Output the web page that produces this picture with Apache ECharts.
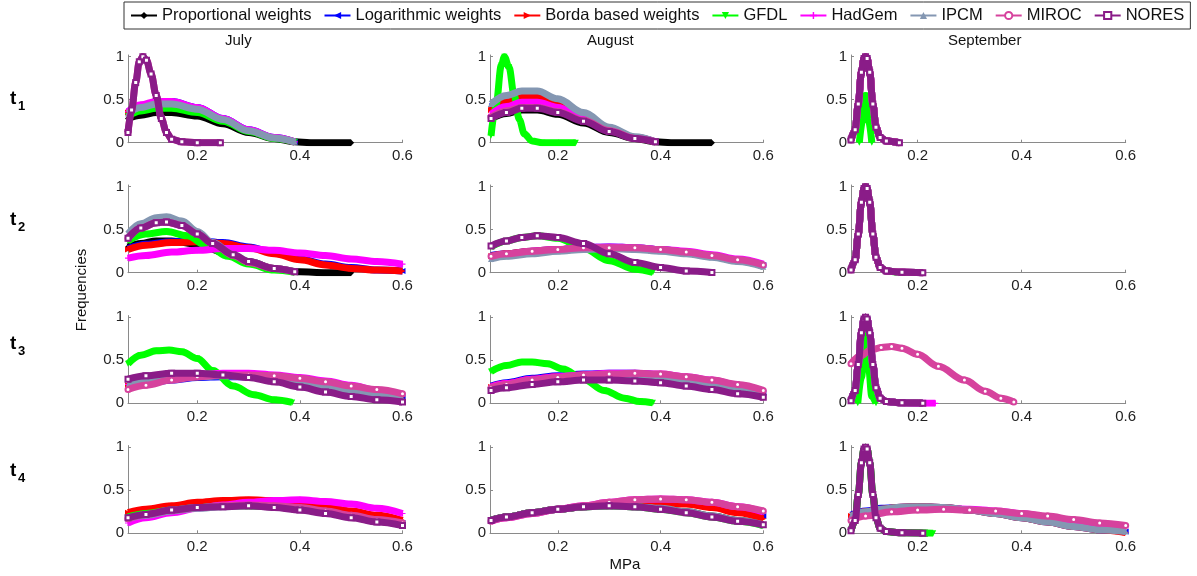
<!DOCTYPE html>
<html>
<head>
<meta charset="utf-8">
<title>Frequencies</title>
<script src="https://cdn.jsdelivr.net/npm/echarts@6/dist/echarts.min.js"></script>
<style>
  html, body { margin: 0; padding: 0; background: #fff; }
  #chart { width: 1197px; height: 576px; }
</style>
</head>
<body>
<div id="chart"></div>
<script>
// series order in every panel: prop, log, borda, gfdl, hadgem, ipcm, miroc, nores
const seriesNames = ['Proportional weights', 'Logarithmic weights', 'Borda based weights', 'GFDL', 'HadGem', 'IPCM', 'MIROC', 'NORES'];
const months = ['July', 'August', 'September'];
const rowIdx = ['1', '2', '3', '4'];
const xTicks = [0.2, 0.4, 0.6];
const yTicks = [0, 0.5, 1];

// shared spike shapes
const sepSpike = [[0.072,0.03],[0.08,0.15],[0.086,0.45],[0.092,0.82],[0.097,0.98],[0.1,1],[0.103,0.98],[0.108,0.82],[0.114,0.45],[0.12,0.18],[0.128,0.06],[0.14,0.02],[0.165,0]];
const sepSpikeLong = [[0.072,0.03],[0.08,0.15],[0.086,0.45],[0.092,0.82],[0.097,0.98],[0.1,1],[0.103,0.98],[0.108,0.82],[0.114,0.45],[0.12,0.18],[0.128,0.06],[0.14,0.02],[0.17,0.005],[0.21,0]];
const julySpike = [[0.065,0.12],[0.072,0.38],[0.08,0.7],[0.087,0.94],[0.094,1],[0.101,0.96],[0.11,0.8],[0.12,0.55],[0.13,0.28],[0.14,0.12],[0.15,0.04],[0.17,0.01],[0.2,0],[0.245,0]];

const julyT1 = [
  [[0.065,0.28],[0.09,0.32],[0.12,0.35],[0.15,0.35],[0.2,0.31],[0.25,0.22],[0.3,0.12],[0.35,0.05],[0.39,0.01],[0.42,0],[0.5,0]],
  [[0.065,0.36],[0.09,0.43],[0.12,0.47],[0.15,0.48],[0.2,0.41],[0.25,0.28],[0.3,0.15],[0.35,0.06],[0.39,0.01]],
  [[0.065,0.35],[0.09,0.42],[0.12,0.46],[0.15,0.47],[0.2,0.4],[0.25,0.27],[0.3,0.14],[0.35,0.055],[0.39,0.01]],
  [[0.065,0.31],[0.09,0.37],[0.12,0.4],[0.15,0.4],[0.2,0.35],[0.25,0.25],[0.3,0.13],[0.35,0.05],[0.39,0.01]],
  [[0.065,0.36],[0.09,0.44],[0.12,0.48],[0.15,0.48],[0.2,0.41],[0.25,0.28],[0.3,0.15],[0.35,0.06],[0.39,0.01]],
  [[0.065,0.34],[0.09,0.41],[0.12,0.45],[0.15,0.45],[0.2,0.39],[0.25,0.27],[0.3,0.14],[0.35,0.055],[0.39,0.01]],
  julySpike,
  julySpike
];
const augT1 = [
  [[0.07,0.28],[0.1,0.34],[0.13,0.38],[0.16,0.38],[0.2,0.33],[0.25,0.23],[0.3,0.12],[0.35,0.05],[0.39,0.01],[0.42,0],[0.5,0]],
  [[0.07,0.42],[0.1,0.52],[0.13,0.57],[0.16,0.57],[0.2,0.48],[0.25,0.33],[0.3,0.17],[0.35,0.06],[0.39,0.01]],
  [[0.07,0.38],[0.1,0.48],[0.13,0.55],[0.16,0.54],[0.2,0.46],[0.25,0.31],[0.3,0.16],[0.35,0.06],[0.39,0.01]],
  [[0.07,0.08],[0.08,0.45],[0.09,0.9],[0.096,1],[0.105,0.88],[0.115,0.55],[0.125,0.27],[0.135,0.1],[0.15,0.02],[0.17,0],[0.235,0]],
  [[0.07,0.33],[0.1,0.42],[0.13,0.47],[0.16,0.47],[0.2,0.41],[0.25,0.29],[0.3,0.15],[0.35,0.06],[0.39,0.01]],
  [[0.07,0.45],[0.1,0.55],[0.13,0.6],[0.16,0.6],[0.2,0.51],[0.25,0.35],[0.3,0.18],[0.35,0.07],[0.39,0.01]],
  [[0.07,0.3],[0.1,0.37],[0.13,0.41],[0.16,0.41],[0.2,0.36],[0.25,0.26],[0.3,0.14],[0.35,0.05],[0.39,0.01]],
  [[0.07,0.28],[0.1,0.35],[0.13,0.4],[0.16,0.4],[0.2,0.35],[0.25,0.25],[0.3,0.13],[0.35,0.05],[0.39,0.01]]
];
const sepT1 = [
  sepSpike, sepSpike, sepSpike,
  [[0.088,0],[0.094,0.25],[0.1,0.55],[0.106,0.25],[0.112,0]],
  sepSpike, sepSpike, sepSpike, sepSpike
];

const julyT2 = [
  [[0.065,0.3],[0.09,0.34],[0.12,0.37],[0.15,0.37],[0.2,0.33],[0.25,0.24],[0.3,0.13],[0.35,0.05],[0.4,0.01],[0.45,0],[0.5,0]],
  [[0.065,0.28],[0.1,0.33],[0.15,0.36],[0.2,0.37],[0.25,0.35],[0.3,0.3],[0.35,0.23],[0.4,0.16],[0.45,0.1],[0.5,0.06],[0.55,0.03],[0.6,0.02]],
  [[0.065,0.27],[0.1,0.32],[0.15,0.35],[0.2,0.36],[0.25,0.34],[0.3,0.29],[0.35,0.22],[0.4,0.15],[0.45,0.09],[0.5,0.05],[0.55,0.03],[0.6,0.02]],
  [[0.065,0.37],[0.1,0.45],[0.14,0.48],[0.18,0.43],[0.22,0.31],[0.26,0.19],[0.3,0.1],[0.35,0.03],[0.39,0.005]],
  [[0.065,0.17],[0.1,0.2],[0.15,0.24],[0.2,0.26],[0.25,0.28],[0.3,0.28],[0.35,0.26],[0.4,0.23],[0.45,0.2],[0.5,0.16],[0.55,0.13],[0.6,0.1]],
  [[0.065,0.45],[0.09,0.57],[0.12,0.64],[0.14,0.65],[0.17,0.6],[0.2,0.48],[0.23,0.35],[0.27,0.21],[0.3,0.13],[0.35,0.05],[0.39,0.01]],
  [[0.065,0.4],[0.09,0.52],[0.12,0.58],[0.14,0.59],[0.17,0.55],[0.2,0.45],[0.23,0.34],[0.27,0.2],[0.3,0.12],[0.35,0.05],[0.39,0.01]],
  [[0.065,0.4],[0.09,0.52],[0.12,0.58],[0.14,0.59],[0.17,0.55],[0.2,0.45],[0.23,0.34],[0.27,0.21],[0.3,0.13],[0.35,0.05],[0.39,0.01]]
];
const augT2 = [
  [[0.07,0.19],[0.1,0.21],[0.15,0.24],[0.2,0.26],[0.25,0.28],[0.3,0.29],[0.35,0.28],[0.4,0.26],[0.45,0.23],[0.5,0.19],[0.55,0.14],[0.6,0.08]],
  [[0.07,0.2],[0.1,0.22],[0.15,0.25],[0.2,0.27],[0.25,0.29],[0.3,0.3],[0.35,0.29],[0.4,0.27],[0.45,0.24],[0.5,0.2],[0.55,0.15],[0.6,0.09]],
  [[0.07,0.19],[0.1,0.22],[0.15,0.25],[0.2,0.27],[0.25,0.28],[0.3,0.29],[0.35,0.28],[0.4,0.26],[0.45,0.23],[0.5,0.19],[0.55,0.14],[0.6,0.08]],
  [[0.07,0.3],[0.1,0.37],[0.13,0.41],[0.16,0.43],[0.2,0.4],[0.25,0.28],[0.3,0.14],[0.35,0.04],[0.385,0.005]],
  [[0.07,0.18],[0.1,0.21],[0.15,0.25],[0.2,0.27],[0.25,0.29],[0.3,0.3],[0.35,0.29],[0.4,0.27],[0.45,0.25],[0.5,0.21],[0.55,0.16],[0.6,0.1]],
  [[0.07,0.16],[0.1,0.19],[0.15,0.22],[0.2,0.25],[0.25,0.27],[0.3,0.28],[0.35,0.27],[0.4,0.25],[0.45,0.22],[0.5,0.18],[0.55,0.13],[0.6,0.07]],
  [[0.07,0.19],[0.1,0.22],[0.15,0.25],[0.2,0.27],[0.25,0.29],[0.3,0.29],[0.35,0.29],[0.4,0.27],[0.45,0.24],[0.5,0.2],[0.55,0.15],[0.6,0.09]],
  [[0.07,0.31],[0.1,0.37],[0.13,0.41],[0.16,0.43],[0.2,0.41],[0.25,0.34],[0.3,0.22],[0.35,0.12],[0.4,0.06],[0.45,0.02],[0.5,0.003]]
];
const sepT2 = [sepSpikeLong, sepSpikeLong, sepSpikeLong, sepSpike, sepSpikeLong, sepSpikeLong, sepSpikeLong, sepSpikeLong];

const julyT3 = [
  [[0.065,0.2],[0.1,0.24],[0.15,0.28],[0.2,0.31],[0.25,0.32],[0.3,0.32],[0.35,0.3],[0.4,0.27],[0.45,0.22],[0.5,0.17],[0.55,0.12],[0.6,0.07]],
  [[0.065,0.19],[0.1,0.23],[0.15,0.27],[0.2,0.3],[0.25,0.31],[0.3,0.31],[0.35,0.29],[0.4,0.26],[0.45,0.21],[0.5,0.16],[0.55,0.11],[0.6,0.07]],
  [[0.065,0.21],[0.1,0.25],[0.15,0.29],[0.2,0.31],[0.25,0.33],[0.3,0.33],[0.35,0.31],[0.4,0.28],[0.45,0.23],[0.5,0.18],[0.55,0.13],[0.6,0.08]],
  [[0.065,0.46],[0.09,0.56],[0.12,0.61],[0.145,0.62],[0.17,0.6],[0.2,0.52],[0.23,0.38],[0.27,0.2],[0.31,0.1],[0.35,0.04],[0.385,0.01]],
  [[0.065,0.22],[0.1,0.26],[0.15,0.3],[0.2,0.33],[0.25,0.35],[0.3,0.35],[0.35,0.33],[0.4,0.3],[0.45,0.26],[0.5,0.21],[0.55,0.15],[0.6,0.1]],
  [[0.065,0.21],[0.1,0.25],[0.15,0.29],[0.2,0.31],[0.25,0.32],[0.3,0.31],[0.35,0.28],[0.4,0.24],[0.45,0.19],[0.5,0.14],[0.55,0.09],[0.6,0.05]],
  [[0.065,0.16],[0.1,0.21],[0.15,0.27],[0.2,0.31],[0.25,0.33],[0.3,0.33],[0.35,0.32],[0.4,0.29],[0.45,0.25],[0.5,0.2],[0.55,0.16],[0.6,0.11]],
  [[0.065,0.28],[0.1,0.32],[0.15,0.35],[0.2,0.35],[0.25,0.33],[0.3,0.3],[0.35,0.25],[0.4,0.19],[0.45,0.13],[0.5,0.08],[0.55,0.04],[0.6,0.015]]
];
const augT3 = [
  [[0.07,0.18],[0.1,0.22],[0.15,0.26],[0.2,0.29],[0.25,0.31],[0.3,0.32],[0.35,0.31],[0.4,0.29],[0.45,0.26],[0.5,0.21],[0.55,0.16],[0.6,0.1]],
  [[0.07,0.2],[0.1,0.24],[0.15,0.29],[0.2,0.32],[0.25,0.34],[0.3,0.35],[0.35,0.35],[0.4,0.33],[0.45,0.3],[0.5,0.25],[0.55,0.19],[0.6,0.12]],
  [[0.07,0.19],[0.1,0.23],[0.15,0.28],[0.2,0.31],[0.25,0.33],[0.3,0.34],[0.35,0.34],[0.4,0.32],[0.45,0.29],[0.5,0.24],[0.55,0.18],[0.6,0.12]],
  [[0.07,0.37],[0.1,0.44],[0.13,0.48],[0.15,0.48],[0.18,0.46],[0.21,0.4],[0.25,0.28],[0.29,0.15],[0.33,0.06],[0.36,0.02],[0.385,0.005]],
  [[0.07,0.19],[0.1,0.23],[0.15,0.28],[0.2,0.31],[0.25,0.33],[0.3,0.35],[0.35,0.35],[0.4,0.34],[0.45,0.31],[0.5,0.27],[0.55,0.21],[0.6,0.14]],
  [[0.07,0.17],[0.1,0.21],[0.15,0.25],[0.2,0.28],[0.25,0.3],[0.3,0.31],[0.35,0.3],[0.4,0.28],[0.45,0.25],[0.5,0.2],[0.55,0.15],[0.6,0.09]],
  [[0.07,0.18],[0.1,0.22],[0.15,0.27],[0.2,0.3],[0.25,0.33],[0.3,0.34],[0.35,0.35],[0.4,0.34],[0.45,0.31],[0.5,0.27],[0.55,0.22],[0.6,0.15]],
  [[0.07,0.15],[0.1,0.18],[0.15,0.22],[0.2,0.25],[0.25,0.27],[0.3,0.27],[0.35,0.26],[0.4,0.24],[0.45,0.2],[0.5,0.16],[0.55,0.11],[0.6,0.07]]
];
const sepT3 = [
  sepSpikeLong, sepSpikeLong, sepSpikeLong,
  [[0.085,0],[0.092,0.3],[0.1,0.8],[0.106,0.4],[0.112,0.08],[0.12,0]],
  [[0.072,0.03],[0.08,0.15],[0.086,0.45],[0.092,0.82],[0.097,0.98],[0.1,1],[0.103,0.98],[0.108,0.82],[0.114,0.45],[0.12,0.18],[0.128,0.06],[0.14,0.02],[0.17,0.006],[0.2,0.002],[0.234,0]],
  sepSpikeLong,
  [[0.072,0.46],[0.09,0.55],[0.11,0.62],[0.13,0.65],[0.15,0.66],[0.17,0.64],[0.2,0.57],[0.24,0.43],[0.29,0.27],[0.33,0.14],[0.36,0.06],[0.385,0.015]],
  sepSpikeLong
];

const julyT4 = [
  [[0.065,0.18],[0.1,0.22],[0.15,0.27],[0.2,0.3],[0.25,0.32],[0.3,0.32],[0.35,0.31],[0.4,0.28],[0.45,0.24],[0.5,0.19],[0.55,0.14],[0.6,0.1]],
  [[0.065,0.19],[0.1,0.23],[0.15,0.28],[0.2,0.31],[0.25,0.33],[0.3,0.34],[0.35,0.33],[0.4,0.3],[0.45,0.26],[0.5,0.21],[0.55,0.16],[0.6,0.12]],
  [[0.065,0.24],[0.1,0.28],[0.15,0.32],[0.2,0.36],[0.25,0.38],[0.3,0.39],[0.35,0.38],[0.4,0.35],[0.45,0.31],[0.5,0.26],[0.55,0.21],[0.6,0.15]],
  [[0.065,0.19],[0.1,0.23],[0.15,0.27],[0.2,0.3],[0.25,0.32],[0.3,0.32],[0.35,0.31],[0.4,0.28],[0.45,0.24],[0.5,0.19],[0.55,0.14],[0.6,0.1]],
  [[0.065,0.12],[0.1,0.18],[0.15,0.24],[0.2,0.29],[0.25,0.33],[0.3,0.36],[0.35,0.38],[0.4,0.39],[0.45,0.37],[0.5,0.34],[0.55,0.29],[0.6,0.23]],
  [[0.065,0.17],[0.1,0.21],[0.15,0.26],[0.2,0.29],[0.25,0.31],[0.3,0.32],[0.35,0.31],[0.4,0.29],[0.45,0.25],[0.5,0.2],[0.55,0.15],[0.6,0.1]],
  [[0.065,0.17],[0.1,0.22],[0.15,0.27],[0.2,0.3],[0.25,0.32],[0.3,0.33],[0.35,0.32],[0.4,0.3],[0.45,0.26],[0.5,0.21],[0.55,0.16],[0.6,0.12]],
  [[0.065,0.18],[0.1,0.22],[0.15,0.27],[0.2,0.3],[0.25,0.31],[0.3,0.32],[0.35,0.3],[0.4,0.27],[0.45,0.23],[0.5,0.18],[0.55,0.13],[0.6,0.09]]
];
const augT4 = [
  [[0.07,0.15],[0.1,0.19],[0.15,0.24],[0.2,0.28],[0.25,0.31],[0.3,0.32],[0.35,0.31],[0.4,0.29],[0.45,0.25],[0.5,0.2],[0.55,0.15],[0.6,0.1]],
  [[0.07,0.15],[0.1,0.19],[0.15,0.24],[0.2,0.28],[0.25,0.31],[0.3,0.34],[0.35,0.36],[0.4,0.37],[0.45,0.36],[0.5,0.33],[0.55,0.27],[0.6,0.2]],
  [[0.07,0.15],[0.1,0.19],[0.15,0.24],[0.2,0.28],[0.25,0.31],[0.3,0.34],[0.35,0.36],[0.4,0.36],[0.45,0.34],[0.5,0.3],[0.55,0.24],[0.6,0.17]],
  [[0.07,0.15],[0.1,0.19],[0.15,0.24],[0.2,0.28],[0.25,0.31],[0.3,0.32],[0.35,0.31],[0.4,0.28],[0.45,0.24],[0.5,0.19],[0.55,0.14],[0.6,0.09]],
  [[0.07,0.14],[0.1,0.18],[0.15,0.23],[0.2,0.28],[0.25,0.32],[0.3,0.36],[0.35,0.39],[0.4,0.4],[0.45,0.39],[0.5,0.36],[0.55,0.31],[0.6,0.25]],
  [[0.07,0.15],[0.1,0.19],[0.15,0.24],[0.2,0.28],[0.25,0.31],[0.3,0.32],[0.35,0.31],[0.4,0.29],[0.45,0.25],[0.5,0.2],[0.55,0.15],[0.6,0.1]],
  [[0.07,0.14],[0.1,0.18],[0.15,0.23],[0.2,0.28],[0.25,0.32],[0.3,0.36],[0.35,0.39],[0.4,0.4],[0.45,0.39],[0.5,0.36],[0.55,0.31],[0.6,0.26]],
  [[0.07,0.15],[0.1,0.19],[0.15,0.24],[0.2,0.28],[0.25,0.31],[0.3,0.32],[0.35,0.31],[0.4,0.28],[0.45,0.24],[0.5,0.19],[0.55,0.14],[0.6,0.1]]
];
const sepT4 = [
  [[0.072,0.03],[0.08,0.15],[0.086,0.45],[0.092,0.82],[0.097,0.98],[0.1,1],[0.103,0.98],[0.108,0.82],[0.114,0.45],[0.12,0.18],[0.128,0.06],[0.14,0.02],[0.17,0.005],[0.22,0]],
  [[0.072,0.21],[0.1,0.26],[0.13,0.29],[0.16,0.3],[0.2,0.31],[0.25,0.3],[0.3,0.27],[0.35,0.23],[0.4,0.18],[0.45,0.13],[0.5,0.08],[0.55,0.04],[0.6,0.02]],
  [[0.072,0.2],[0.1,0.25],[0.13,0.28],[0.16,0.3],[0.2,0.31],[0.25,0.3],[0.3,0.27],[0.35,0.23],[0.4,0.18],[0.45,0.13],[0.5,0.08],[0.55,0.04],[0.6,0.01]],
  [[0.072,0.03],[0.08,0.15],[0.086,0.45],[0.092,0.82],[0.097,0.98],[0.1,1],[0.103,0.98],[0.108,0.82],[0.114,0.45],[0.12,0.18],[0.128,0.06],[0.14,0.02],[0.17,0.005],[0.23,0]],
  [[0.072,0.17],[0.1,0.22],[0.15,0.26],[0.2,0.28],[0.25,0.29],[0.3,0.28],[0.35,0.26],[0.4,0.23],[0.45,0.19],[0.5,0.15],[0.55,0.11],[0.6,0.08]],
  [[0.072,0.2],[0.1,0.25],[0.13,0.28],[0.16,0.3],[0.2,0.31],[0.25,0.3],[0.3,0.27],[0.35,0.23],[0.4,0.18],[0.45,0.13],[0.5,0.08],[0.55,0.04],[0.6,0.02]],
  [[0.072,0.15],[0.1,0.2],[0.15,0.25],[0.2,0.27],[0.25,0.28],[0.3,0.27],[0.35,0.26],[0.4,0.23],[0.45,0.2],[0.5,0.16],[0.55,0.12],[0.6,0.09]],
  sepSpikeLong
];

const panels = [
  [julyT1, augT1, sepT1],
  [julyT2, augT2, sepT2],
  [julyT3, augT3, sepT3],
  [julyT4, augT4, sepT4]
];

// styling
const colors = ['#000000', '#0000ff', '#ff0000', '#00ff00', '#ff00ff', '#8497b2', '#d6429d', '#8a1c88'];
const plus = 'path://M4,0H6V4H10V6H6V10H4V6H0V4H4Z';
const symbols = ['diamond', 'triangle', 'triangle', 'triangle', plus, 'triangle', 'emptyCircle', 'emptyRect'];
const rotates = [0, 90, -90, 180, 0, 0, 0, 0];

const FONT = 'Liberation Sans, Arial, sans-serif';
const colLeft = [128, 490, 851];
const colWidth = [274.5, 273.3, 274.7];
const colMin = [0.065, 0.068, 0.072];
const rowZero = [142.7, 272.7, 403.3, 533.3];
const unit = 86;
const yMax = 1.02;

const chart = echarts.init(document.getElementById('chart'));

const grids = [], xAxes = [], yAxes = [], series = [];
panels.forEach((row, r) => {
  row.forEach((panel, c) => {
    const gi = grids.length;
    grids.push({
      left: colLeft[c], width: colWidth[c],
      top: rowZero[r] - yMax * unit, height: yMax * unit
    });
    xAxes.push({
      type: 'value', gridIndex: gi, min: colMin[c], max: 0.6,
      axisLine: { lineStyle: { color: '#8a8a8a', width: 1 } },
      axisTick: { inside: true, length: 3, customValues: xTicks, lineStyle: { color: '#8a8a8a' } },
      axisLabel: { customValues: xTicks, color: '#222', fontSize: 15, fontFamily: FONT, margin: 6 },
      splitLine: { show: false }
    });
    yAxes.push({
      type: 'value', gridIndex: gi, min: 0, max: yMax,
      axisLine: { show: true, lineStyle: { color: '#8a8a8a', width: 1 } },
      axisTick: { show: true, inside: true, length: 3, customValues: yTicks, lineStyle: { color: '#8a8a8a' } },
      axisLabel: { customValues: yTicks, color: '#222', fontSize: 15, fontFamily: FONT, margin: 4 },
      splitLine: { show: false }
    });
    panel.forEach((data, s) => {
      series.push({
        name: seriesNames[s],
        type: 'line',
        xAxisIndex: gi, yAxisIndex: gi,
        data: data,
        smooth: 0.35,
        smoothMonotone: 'x',
        symbol: symbols[s],
        symbolRotate: rotates[s],
        symbolSize: s >= 6 ? 5 : 6,
        showAllSymbol: true,
        color: colors[s],
        lineStyle: { width: 7, color: colors[s] },
        itemStyle: { color: colors[s], borderWidth: 1.5 },
        z: 2 + s,
        animation: false
      });
    });
  });
});

const graphics = [];
const colCenter = [265, 627, 988];
months.forEach((m, i) => {
  graphics.push({
    type: 'text', left: colCenter[i] - 40, top: 33,
    style: { text: m, fill: '#111', font: '15px ' + FONT, width: 80, align: 'center' }
  });
});
const rowTop = [89, 210, 334, 461];
rowIdx.forEach((n, i) => {
  graphics.push({ type: 'text', x: 10, y: rowTop[i], style: { text: 't', fill: '#000', font: 'bold 19px ' + FONT } });
  graphics.push({ type: 'text', x: 18, y: rowTop[i] + 11, style: { text: n, fill: '#000', font: 'bold 13px ' + FONT } });
});
graphics.push({
  type: 'text', x: 74, y: 290, rotation: Math.PI / 2,
  style: { text: 'Frequencies', fill: '#111', font: '15px ' + FONT, align: 'center', verticalAlign: 'top' }
});
graphics.push({
  type: 'text', x: 625, y: 557,
  style: { text: 'MPa', fill: '#111', font: '15px ' + FONT, align: 'center' }
});

chart.setOption({
  animation: false,
  backgroundColor: '#fff',
  legend: {
    data: seriesNames,
    left: 124, top: 2,
    padding: [5, 6],
    itemGap: 12,
    itemWidth: 26, itemHeight: 9,
    borderColor: '#333', borderWidth: 1,
    textStyle: { fontSize: 16.5, fontFamily: FONT, color: '#111' },
    lineStyle: { width: 2 }
  },
  grid: grids,
  xAxis: xAxes,
  yAxis: yAxes,
  series: series,
  graphic: graphics
});
</script>
</body>
</html>
